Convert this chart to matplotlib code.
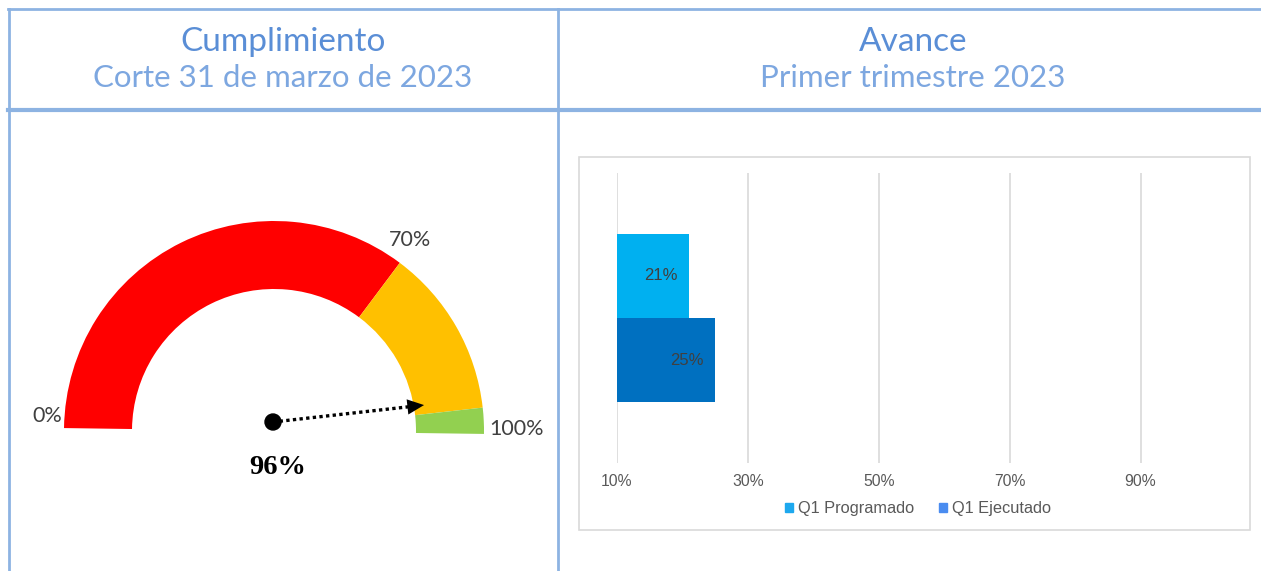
import numpy as np
import matplotlib
matplotlib.use("Agg")
import matplotlib.pyplot as plt
from matplotlib.patches import Wedge, Rectangle, Circle

# ---------------- datos ----------------
gauge_bounds = [0, 70, 96, 100]
gauge_colors = ["#FF0000", "#FFC000", "#92D050"]
gauge_labels = ["0%", "70%", "100%"]
gauge_value = 96

series = ["Q1 Programado", "Q1 Ejecutado"]
series_values = [21, 25]
bar_colors = ["#00B0F0", "#0070C0"]
legend_colors = ["#1DA8EE", "#4A8CF0"]
x_ticks = [10, 30, 50, 70, 90]

titles = ["Cumplimiento", "Avance"]
subtitles = ["Corte 31 de marzo de 2023", "Primer trimestre 2023"]

W, H = 1261, 571
LINE = "#8DB3E2"
HEAD = "#5A8ED6"
INK = "#404040"

fig = plt.figure(figsize=(W / 100, H / 100), dpi=100)
fig.patch.set_facecolor("white")

# capa de fondo en pixeles (y hacia arriba)
bg = fig.add_axes([0, 0, 1, 1])
bg.set_xlim(0, W)
bg.set_ylim(0, H)
bg.axis("off")


def py(y):
    return H - y


# bordes de la tabla
bg.plot([8, W], [py(9), py(9)], color=LINE, lw=2.0)
bg.plot([8, W], [py(110), py(110)], color=LINE, lw=3.0)
bg.plot([9, 9], [py(9), 0], color=LINE, lw=2.0)
bg.plot([558, 558], [py(9), 0], color=LINE, lw=2.0)

# encabezados
head_font = ["Lato", "DejaVu Sans"]
for cx, t, s in zip([283, 913], titles, subtitles):
    bg.text(cx, py(42), t, ha="center", va="center", fontsize=24,
            color=HEAD, family=head_font)
    bg.text(cx, py(78), s, ha="center", va="center", fontsize=22.5,
            color="#7DA7E0", family=head_font)

# ---------------- medidor ----------------
cx, cy = 274, py(431)
r_out, ring = 210, 68
rot = -0.8


def ang(v):
    return 180 - v * 1.8 + rot


for lo, hi, c in zip(gauge_bounds[:-1], gauge_bounds[1:], gauge_colors):
    bg.add_patch(Wedge((cx, cy), r_out, ang(hi), ang(lo), width=ring,
                       facecolor=c, edgecolor="none"))

lab_font = ["Lato", "DejaVu Sans"]
bg.text(62, py(416), gauge_labels[0], ha="right", va="center",
        fontsize=15.5, color=INK, family=lab_font)
bg.text(389, py(240), gauge_labels[1], ha="left", va="center",
        fontsize=15.5, color=INK, family=lab_font)
bg.text(489, py(429), gauge_labels[2], ha="left", va="center",
        fontsize=15.5, color=INK, family=lab_font)

# aguja
px0, py0 = 273, py(422)
a = np.radians(ang(gauge_value))
L = 152
ux, uy = np.cos(a), np.sin(a)
tx, ty = px0 + L * ux, py0 + L * uy
bg.plot([px0, tx - 16 * ux], [py0, ty - 16 * uy],
        color="black", lw=2.4, ls=(0, (1, 1.0)))
bg.annotate("", xy=(tx, ty), xytext=(tx - 18 * ux, ty - 18 * uy),
            arrowprops=dict(arrowstyle="-|>,head_length=1.2,head_width=0.55",
                            color="black", lw=0, shrinkA=0, shrinkB=0))
bg.add_patch(Circle((px0, py0), 8, color="black", zorder=5))
bg.text(278, py(468), f"{gauge_value}%", ha="center", va="center",
        fontsize=20.5, fontweight="bold", color="black",
        family=["Liberation Serif", "DejaVu Serif"])

# ---------------- barras ----------------
bg.add_patch(Rectangle((579, py(530)), 1250 - 579, 530 - 157,
                       facecolor="none", edgecolor="#D9D9D9", lw=1.2))

x0, x1 = 617, 1206
ax = fig.add_axes([x0 / W, py(463) / H, (x1 - x0) / W, (463 - 173) / H])
ax.set_facecolor("none")
ax.set_xlim(10, 100)
ax.set_ylim(-0.5, 0.5)
bh = 0.29
ypos = [bh / 2, -bh / 2]
bars = ax.barh(ypos, series_values, height=bh, color=bar_colors,
               edgecolor="none", zorder=3)
for b, v in zip(bars, series_values):
    ax.annotate(f"{v}%", xy=(v, b.get_y() + bh / 2), xytext=(-8, 0),
                textcoords="offset points", ha="right", va="center",
                fontsize=12, color=INK, family=["Liberation Sans"])
ax.set_xticks(x_ticks)
ax.set_xticklabels([f"{t}%" for t in x_ticks], fontsize=11.3, color="#595959",
                   family=["Liberation Sans"])
ax.tick_params(axis="x", length=0, pad=8)
ax.set_yticks([])
ax.grid(axis="x", color="#D9D9D9", lw=1.2, zorder=0)
for s in ax.spines.values():
    s.set_visible(False)

handles = [Rectangle((0, 0), 1, 1, color=c) for c in legend_colors]
fig.legend(handles, series, loc="center", bbox_to_anchor=(918 / W, py(509) / H),
           ncol=2, frameon=False, handlelength=0.5, handleheight=0.5,
           handletextpad=0.3, columnspacing=1.5,
           prop={"family": "Liberation Sans", "size": 11.8}, labelcolor="#595959")

fig.savefig("out.png", dpi=100, facecolor="white")
